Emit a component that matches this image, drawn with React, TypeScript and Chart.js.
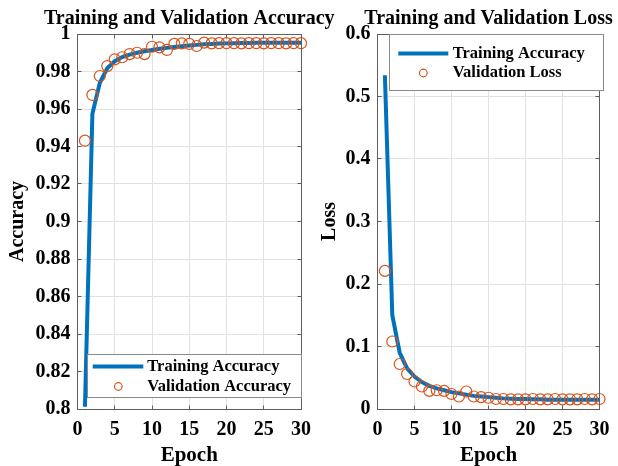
import React, { useEffect, useRef } from "react";
import { Chart, registerables } from "chart.js";

Chart.register(...registerables);

// ---- data ----
const epochs = [1, 2, 3, 4, 5, 6, 7, 8, 9, 10, 11, 12, 13, 14, 15, 16, 17, 18, 19, 20, 21, 22, 23, 24, 25, 26, 27, 28, 29, 30];

const trainAccuracy = [
  0.8012, 0.9575, 0.974, 0.9818, 0.9855, 0.9877, 0.989, 0.99, 0.9908, 0.9915,
  0.9921, 0.9926, 0.9931, 0.9935, 0.9939, 0.9942, 0.9945, 0.9947, 0.9949, 0.995,
  0.9951, 0.9952, 0.9952, 0.9953, 0.9953, 0.9953, 0.9954, 0.9954, 0.9954, 0.9954,
];

const validationAccuracy = [
  0.9431, 0.9675, 0.9776, 0.9829, 0.9865, 0.9876, 0.9893, 0.99, 0.9893, 0.9932,
  0.9929, 0.9915, 0.9947, 0.995, 0.9947, 0.9936, 0.9954, 0.995, 0.9951, 0.9951,
  0.9951, 0.995, 0.9951, 0.9951, 0.995, 0.9951, 0.9951, 0.995, 0.9951, 0.9951,
];

const trainLoss = [
  0.534, 0.15, 0.09, 0.065, 0.052, 0.043, 0.037, 0.033, 0.03, 0.027,
  0.025, 0.023, 0.021, 0.02, 0.019, 0.018, 0.017, 0.0165, 0.016, 0.016,
  0.0155, 0.0155, 0.015, 0.015, 0.015, 0.015, 0.015, 0.015, 0.015, 0.015,
];

const validationLoss = [
  0.221, 0.108, 0.072, 0.056, 0.044, 0.036, 0.029, 0.03, 0.029, 0.024,
  0.02, 0.028, 0.02, 0.019, 0.018, 0.016, 0.016, 0.0155, 0.0155, 0.0155,
  0.016, 0.0155, 0.0155, 0.016, 0.0155, 0.0155, 0.0155, 0.016, 0.0155, 0.016,
];

const epochTicks = [0, 5, 10, 15, 20, 25, 30];
const accuracyTicks = [0.8, 0.82, 0.84, 0.86, 0.88, 0.9, 0.92, 0.94, 0.96, 0.98, 1];
const lossTicks = [0, 0.1, 0.2, 0.3, 0.4, 0.5, 0.6];

// ---- styling ----
const FONT = "'Liberation Serif', 'Times New Roman', serif";
const BLUE = "#0072BD";
const ORANGE = "#D95319";
const GRID = "#e2e2e2";
const FRAME = "#5e5e5e";
const HEIGHT = 466;

const fmt = (v: number) => String(+Number(v).toFixed(2));

// Box, inward tick marks, panel title and in-axes legend in MATLAB style
const axesDecor = {
  id: "axesDecor",
  afterDatasetsDraw(chart: any, _args: any, opts: any) {
    const { ctx, chartArea } = chart;
    const { left, right, top, bottom } = chartArea;
    const xs = chart.scales.x;
    const ys = chart.scales.y;
    const a = (v: number) => Math.floor(v) + 0.5;
    ctx.save();

    // axes box
    ctx.strokeStyle = FRAME;
    ctx.lineWidth = 1;
    ctx.strokeRect(a(left), a(top), a(right) - a(left), a(bottom) - a(top));

    // inward ticks on all four sides
    const tl = 4;
    ctx.beginPath();
    xs.ticks.forEach((t: any) => {
      const px = a(xs.getPixelForValue(t.value));
      ctx.moveTo(px, a(bottom));
      ctx.lineTo(px, a(bottom) - tl);
      ctx.moveTo(px, a(top));
      ctx.lineTo(px, a(top) + tl);
    });
    ys.ticks.forEach((t: any) => {
      const py = a(ys.getPixelForValue(t.value));
      ctx.moveTo(a(left), py);
      ctx.lineTo(a(left) + tl, py);
      ctx.moveTo(a(right), py);
      ctx.lineTo(a(right) - tl, py);
    });
    ctx.stroke();

    // legend
    const lg = opts.legend;
    if (lg) {
      const bx = left + lg.dx;
      const by = top + lg.dy;
      ctx.fillStyle = "#ffffff";
      ctx.fillRect(bx, by, lg.w, lg.h);
      ctx.strokeStyle = "#8a8a8a";
      ctx.lineWidth = 1;
      ctx.strokeRect(a(bx), a(by), Math.round(lg.w), Math.round(lg.h));

      const ds = chart.data.datasets;
      ctx.font = `bold ${lg.fontSize}px ${FONT}`;
      ctx.textAlign = "left";
      ctx.textBaseline = "middle";

      // line entry
      const y0 = by + lg.rows[0];
      ctx.strokeStyle = ds[0].borderColor;
      ctx.lineWidth = ds[0].borderWidth;
      ctx.beginPath();
      ctx.moveTo(bx + lg.lineX[0], y0);
      ctx.lineTo(bx + lg.lineX[1], y0);
      ctx.stroke();
      ctx.fillStyle = "#000";
      ctx.fillText(ds[0].label, bx + lg.textX, y0);

      // marker entry
      const y1 = by + lg.rows[1];
      ctx.strokeStyle = ds[1].pointBorderColor;
      ctx.lineWidth = ds[1].pointBorderWidth;
      ctx.beginPath();
      ctx.arc(bx + lg.markerX, y1, lg.markerR, 0, Math.PI * 2);
      ctx.stroke();
      ctx.fillStyle = "#000";
      ctx.fillText(ds[1].label, bx + lg.textX, y1);
    }
    ctx.restore();
  },
  afterDraw(chart: any, _args: any, opts: any) {
    const { ctx, chartArea } = chart;
    if (!opts.title) return;
    ctx.save();
    ctx.font = `bold ${opts.titleSize}px ${FONT}`;
    ctx.fillStyle = "#000";
    ctx.textAlign = "center";
    ctx.textBaseline = "alphabetic";
    ctx.fillText(opts.title, (chartArea.left + chartArea.right) / 2, opts.titleY);
    ctx.restore();
  },
};

type PanelSpec = {
  title: string;
  yTitle: string;
  yMin: number;
  yMax: number;
  yTicks: number[];
  train: number[];
  valid: number[];
  trainLabel: string;
  validLabel: string;
  axisWidth: number;
  rightPad: number;
  yTitlePad: number;
  legend: any;
};

function buildConfig(p: PanelSpec): any {
  const tickFont = { family: FONT, size: 20, weight: "bold" as const };
  return {
    type: "line",
    data: {
      datasets: [
        {
          label: p.trainLabel,
          data: epochs.map((e, i) => ({ x: e, y: p.train[i] })),
          borderColor: BLUE,
          backgroundColor: BLUE,
          borderWidth: 4,
          pointRadius: 0,
          tension: 0,
          order: 2,
        },
        {
          label: p.validLabel,
          data: epochs.map((e, i) => ({ x: e, y: p.valid[i] })),
          showLine: false,
          pointRadius: 5.5,
          pointStyle: "circle",
          pointBorderColor: ORANGE,
          pointBackgroundColor: "rgba(0,0,0,0)",
          pointBorderWidth: 1.2,
          borderColor: ORANGE,
          clip: false,
          order: 1,
        },
      ],
    },
    options: {
      responsive: false,
      animation: false,
      devicePixelRatio: 1,
      events: [],
      layout: { padding: { top: 34, right: p.rightPad, bottom: 0, left: 0 } },
      plugins: {
        legend: { display: false },
        tooltip: { enabled: false },
        title: { display: false },
        axesDecor: {
          title: p.title,
          titleSize: 20,
          titleY: 24,
          legend: p.legend,
        },
      },
      scales: {
        x: {
          type: "linear",
          min: 0,
          max: 30,
          afterBuildTicks: (s: any) => {
            s.ticks = epochTicks.map((v) => ({ value: v }));
          },
          afterFit: (s: any) => {
            s.height = HEIGHT - 409;
          },
          ticks: {
            font: tickFont,
            color: "#000",
            padding: 8.5,
            maxRotation: 0,
            autoSkip: false,
            callback: (v: any) => fmt(v),
          },
          grid: { color: GRID, drawTicks: false, lineWidth: 1 },
          border: { display: false },
          title: {
            display: true,
            text: "Epoch",
            color: "#000",
            font: { family: FONT, size: 21, weight: "bold" },
            padding: { top: 0, bottom: -2 },
          },
        },
        y: {
          type: "linear",
          min: p.yMin,
          max: p.yMax,
          afterBuildTicks: (s: any) => {
            s.ticks = p.yTicks.map((v) => ({ value: v }));
          },
          afterFit: (s: any) => {
            s.width = p.axisWidth;
          },
          ticks: {
            font: tickFont,
            color: "#000",
            padding: 7,
            autoSkip: false,
            callback: (v: any) => fmt(v),
          },
          grid: { color: GRID, drawTicks: false, lineWidth: 1 },
          border: { display: false },
          title: {
            display: true,
            text: p.yTitle,
            color: "#000",
            font: { family: FONT, size: 20, weight: "bold" },
            padding: { top: p.yTitlePad, bottom: 0 },
          },
        },
      },
    },
    plugins: [axesDecor],
  };
}

const accuracyPanel: PanelSpec = {
  title: "Training and Validation Accuracy",
  yTitle: "Accuracy",
  yMin: 0.8,
  yMax: 1,
  yTicks: accuracyTicks,
  train: trainAccuracy,
  valid: validationAccuracy,
  trainLabel: "Training Accuracy",
  validLabel: "Validation Accuracy",
  axisWidth: 77.5,
  rightPad: 39,
  yTitlePad: 5.5,
  legend: {
    dx: 9.8, dy: 320, w: 213.7, h: 43.3,
    rows: [12.5, 32.5], lineX: [5.4, 56], markerX: 31, markerR: 3.8, textX: 60, fontSize: 16.5,
  },
};

const lossPanel: PanelSpec = {
  title: "Training and Validation Loss",
  yTitle: "Loss",
  yMin: 0,
  yMax: 0.6,
  yTicks: lossTicks,
  train: trainLoss,
  valid: validationLoss,
  trainLabel: "Training Accuracy",
  validLabel: "Validation Loss",
  axisWidth: 71.5,
  rightPad: 16,
  yTitlePad: 11.5,
  legend: {
    dx: 11.8, dy: 0.5, w: 213.7, h: 56,
    rows: [19, 38.5], lineX: [9, 59], markerX: 34, markerR: 3.8, textX: 63.4, fontSize: 16.5,
  },
};

function Panel({ spec, left, width }: { spec: PanelSpec; left: number; width: number }) {
  const ref = useRef<HTMLCanvasElement>(null);
  useEffect(() => {
    if (!ref.current) return;
    const chart = new Chart(ref.current, buildConfig(spec));
    return () => chart.destroy();
  }, [spec]);
  return (
    <canvas
      ref={ref}
      width={width}
      height={HEIGHT}
      style={{ position: "absolute", left, top: 0, width, height: HEIGHT, display: "block" }}
    />
  );
}

export default function App() {
  return (
    <div style={{ position: "absolute", left: 0, top: 0, width: 618, height: HEIGHT, background: "#fff", overflow: "hidden" }}>
      <Panel spec={accuracyPanel} left={0} width={340} />
      <Panel spec={lossPanel} left={306} width={312} />
    </div>
  );
}
